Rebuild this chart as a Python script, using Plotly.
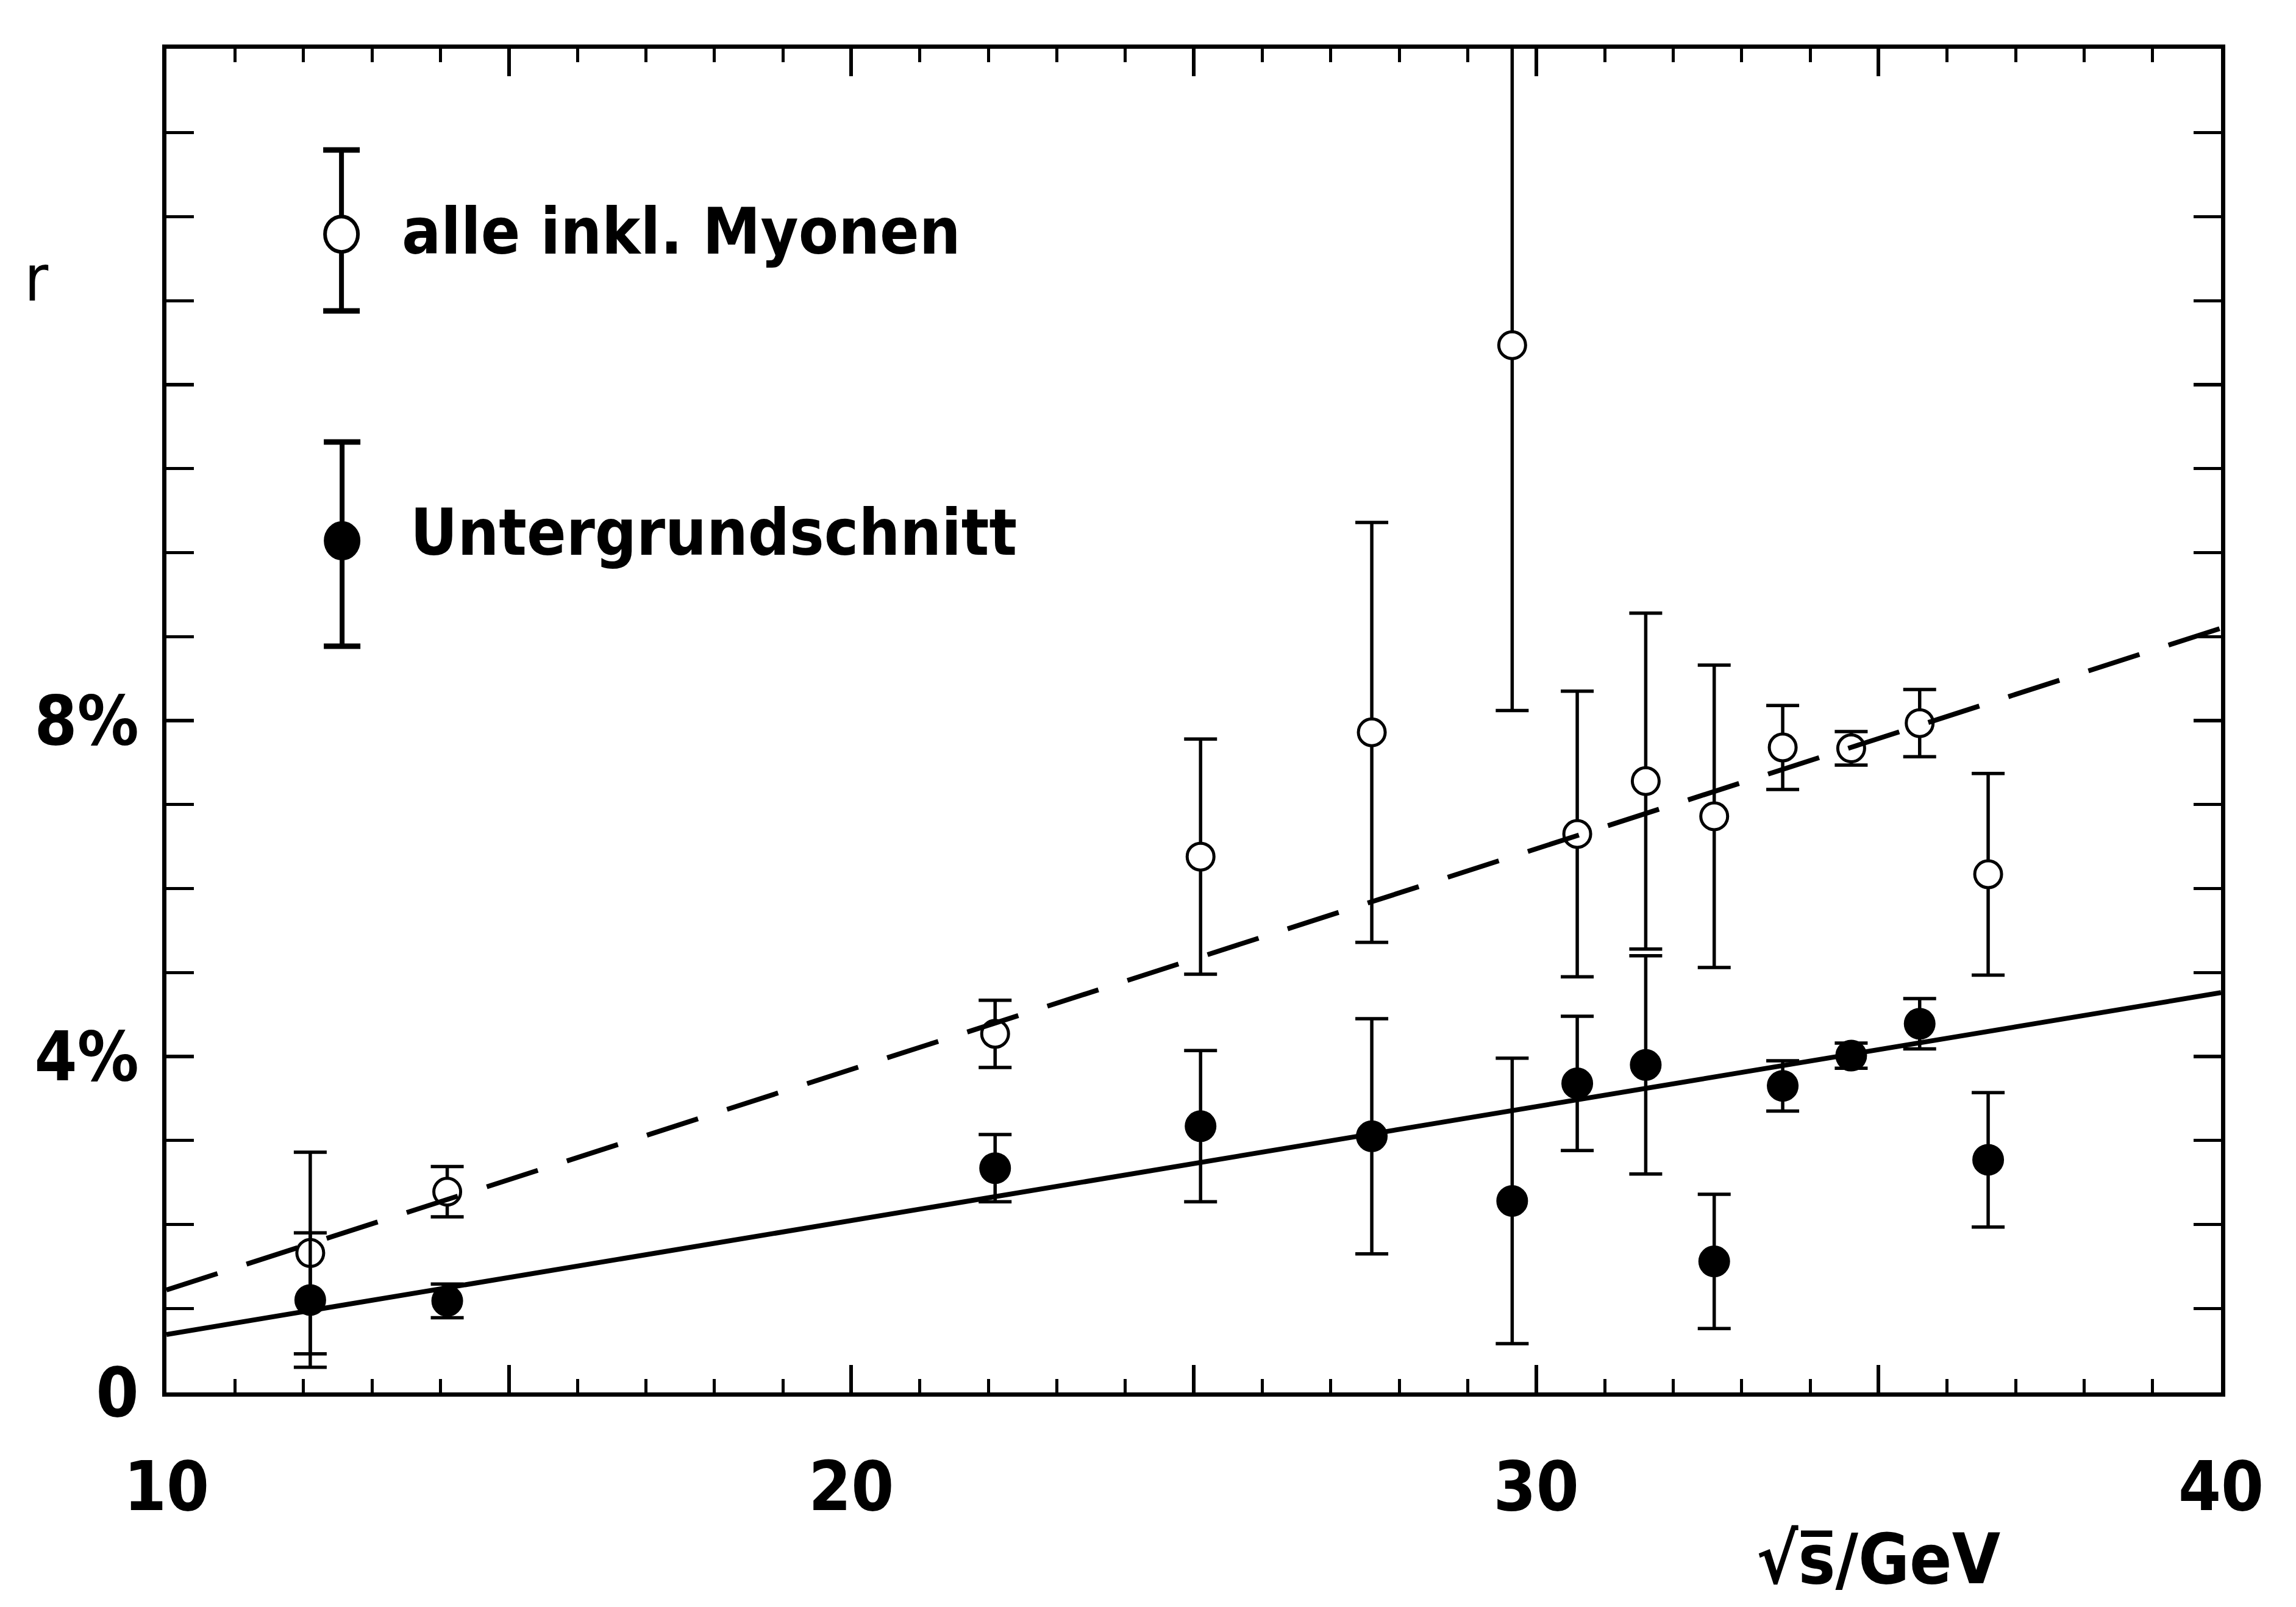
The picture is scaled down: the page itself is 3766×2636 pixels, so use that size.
import plotly.graph_objects as go

# Centre-of-mass energies (GeV)
energies = [12.1, 14.1, 22.1, 25.1, 27.6, 29.65, 30.6, 31.6, 32.6, 33.6, 34.6, 35.6, 36.6]

# r in percent: all inclusive muons (open circles)
r_all = [1.66, 2.39, 4.27, 6.38, 7.86, 12.47, 6.65, 7.28, 6.86, 7.68, 7.67, 7.97, 6.17]
r_all_err = [1.2, 0.3, 0.4, 1.4, 2.5, 4.35, 1.7, 2.0, 1.8, 0.5, 0.2, 0.4, 1.2]

# r in percent after background cut (filled circles)
r_cut = [1.10, 1.09, 2.67, 3.17, 3.05, 2.28, 3.68, 3.90, 1.56, 3.65, 4.01, 4.39, 2.77]
r_cut_err = [0.8, 0.2, 0.4, 0.9, 1.4, 1.7, 0.8, 1.3, 0.8, 0.3, 0.15, 0.3, 0.8]

# Linear fits, evaluated at the ends of the energy range
fit_x = [10, 40]
fit_all = [1.22, 9.10]
fit_cut = [0.69, 4.76]

x_tickvals = [10, 15, 20, 25, 30, 35, 40]
x_ticktext = ["10", "", "20", "", "30", "", "40"]
y_tickvals = [0, 4, 8, 12, 16]
y_ticktext = ["0", "4%", "8%", "", ""]

legend_all = "alle inkl. Myonen"
legend_cut = "Untergrundschnitt"

FONT = "DejaVu Sans Condensed, DejaVu Sans, sans-serif"
INK = "black"

fig = go.Figure()

fig.add_trace(go.Scatter(
    x=energies, y=r_all, mode="markers", name=legend_all,
    marker=dict(symbol="circle", size=44, color="white", line=dict(color=INK, width=5)),
    error_y=dict(type="data", array=r_all_err, visible=True, color=INK, thickness=5.5, width=27),
))
fig.add_trace(go.Scatter(
    x=energies, y=r_cut, mode="markers", name=legend_cut,
    marker=dict(symbol="circle", size=50, color=INK, line=dict(color=INK, width=2)),
    error_y=dict(type="data", array=r_cut_err, visible=True, color=INK, thickness=5.5, width=27),
))
fig.add_trace(go.Scatter(
    x=fit_x, y=fit_all, mode="lines",
    line=dict(color=INK, width=8, dash="88px,50px"),
))
fig.add_trace(go.Scatter(
    x=fit_x, y=fit_cut, mode="lines",
    line=dict(color=INK, width=8),
))
# transparent trace so the top axis gets drawn
fig.add_trace(go.Scatter(
    x=fit_x, y=fit_cut, mode="lines", xaxis="x2", yaxis="y",
    line=dict(color="rgba(0,0,0,0)", width=0), hoverinfo="skip",
))

tick_style = dict(
    showline=True, linewidth=7, linecolor=INK,
    ticks="inside", ticklen=45, tickwidth=6, tickcolor=INK,
    showgrid=False, zeroline=False,
    tickfont=dict(family=FONT, size=112, color=INK, weight="bold"),
)
minor_style = dict(dtick=1, ticks="inside", ticklen=22, tickwidth=5,
                   tickcolor=INK, showgrid=False)

fig.update_layout(
    xaxis=dict(
        range=[10, 40], tickmode="array", tickvals=x_tickvals, ticktext=x_ticktext,
        ticklabelstandoff=52, mirror=False,
        minor=dict(tick0=10, **minor_style), **tick_style,
    ),
    # top frame edge with its own inward ticks
    xaxis2=dict(
        range=[10, 40], overlaying="x", side="top", anchor="y",
        tickmode="array", tickvals=x_tickvals, showticklabels=False,
        minor=dict(tick0=10, **minor_style), **tick_style,
    ),
    yaxis=dict(
        range=[0, 16], tickmode="array", tickvals=y_tickvals, ticktext=y_ticktext,
        ticklabelstandoff=16, mirror="allticks",
        minor=dict(tick0=0, **minor_style), **tick_style,
    ),
)

# Hand-drawn legend keys: error bar with circle marker
shapes = []
def legend_key(xc, yc, y_lo, y_hi, filled):
    shapes.append(dict(type="line", xref="paper", yref="paper",
                       x0=xc, x1=xc, y0=y_lo, y1=y_hi,
                       line=dict(color=INK, width=8)))
    for yy in (y_lo, y_hi):
        shapes.append(dict(type="line", xref="paper", yref="paper",
                           xsizemode="pixel", xanchor=xc, x0=-30, x1=30,
                           y0=yy, y1=yy, line=dict(color=INK, width=9)))
    shapes.append(dict(type="circle", xref="paper", yref="paper",
                       xsizemode="pixel", ysizemode="pixel",
                       xanchor=xc, yanchor=yc, x0=-27, x1=27, y0=-29, y1=29,
                       fillcolor=INK if filled else "white",
                       line=dict(color=INK, width=6)))

legend_key(0.0852, 0.8620, 0.8049, 0.9247, False)
legend_key(0.0855, 0.6338, 0.5554, 0.7073, True)

text_font = dict(family=FONT, size=106, color=INK, weight="bold")
annotations = [
    dict(text=legend_all, xref="paper", yref="paper", x=0.1140, y=0.8640,
         xanchor="left", yanchor="middle", showarrow=False, font=text_font),
    dict(text=legend_cut, xref="paper", yref="paper", x=0.1180, y=0.6400,
         xanchor="left", yanchor="middle", showarrow=False, font=text_font),
    dict(text="r", xref="paper", yref="paper", x=-0.0632, y=0.8290,
         xanchor="center", yanchor="middle", showarrow=False,
         font=dict(family=FONT, size=106, color=INK)),
    dict(text="\u221as\u0305/GeV",
         xref="paper", yref="paper", x=0.8332, y=-0.1239,
         xanchor="center", yanchor="middle", showarrow=False,
         font=dict(family=FONT, size=114, color=INK, weight="bold")),
]

fig.update_layout(
    width=3766, height=2636,
    margin=dict(l=273, r=123, t=80, b=352),
    paper_bgcolor="white", plot_bgcolor="white",
    showlegend=False,
    shapes=shapes, annotations=annotations,
    font=dict(family=FONT, color=INK),
)

fig.write_html("out.html")
